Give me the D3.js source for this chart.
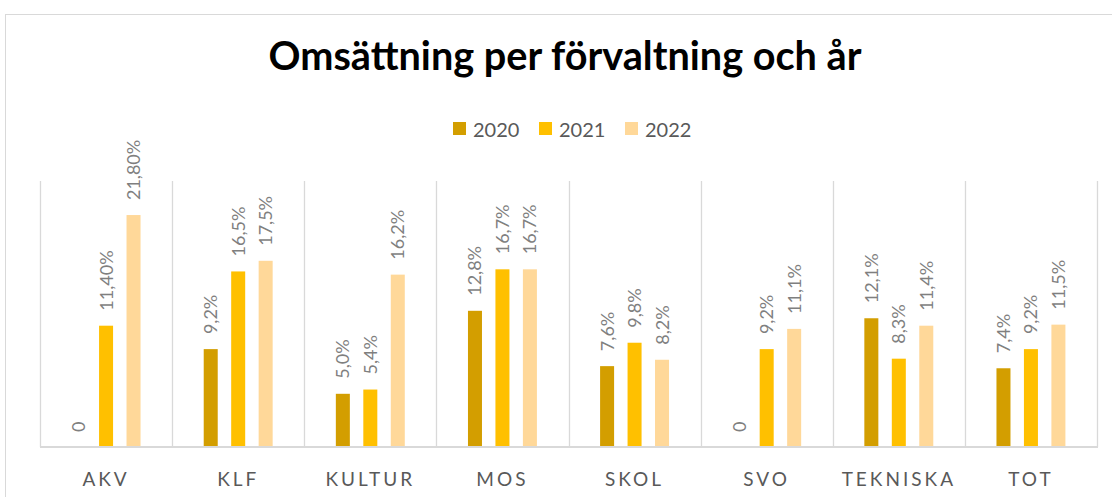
<!DOCTYPE html>
<html>
<head>
<meta charset="utf-8">
<script src="https://cdn.jsdelivr.net/npm/d3@7"></script>
<style>
  html, body { margin: 0; padding: 0; background: #fff; }
  svg { display: block; }
  text { font-family: Lato, "Open Sans", sans-serif; }
</style>
</head>
<body>
<svg id="chart" width="1112" height="497"></svg>
<script>
const categories = ["AKV", "KLF", "KULTUR", "MOS", "SKOL", "SVO", "TEKNISKA", "TOT"];
const years = ["2020", "2021", "2022"];
const values2020 = [0, 9.2, 5.0, 12.8, 7.6, 0, 12.1, 7.4];
const values2021 = [11.4, 16.5, 5.4, 16.7, 9.8, 9.2, 8.3, 9.2];
const values2022 = [21.8, 17.5, 16.2, 16.7, 8.2, 11.1, 11.4, 11.5];
const labels2020 = ["0", "9,2%", "5,0%", "12,8%", "7,6%", "0", "12,1%", "7,4%"];
const labels2021 = ["11,40%", "16,5%", "5,4%", "16,7%", "9,8%", "9,2%", "8,3%", "9,2%"];
const labels2022 = ["21,80%", "17,5%", "16,2%", "16,7%", "8,2%", "11,1%", "11,4%", "11,5%"];
const colors = ["#D39E00", "#FFC000", "#FFD899"];
const title = "Omsättning per förvaltning och år";

const seriesValues = [values2020, values2021, values2022];
const seriesLabels = [labels2020, labels2021, labels2022];

const svg = d3.select("#chart");

// outer chart frame
svg.append("rect")
  .attr("x", 5.5).attr("y", 14.5)
  .attr("width", 1130).attr("height", 520)
  .attr("fill", "#fff").attr("stroke", "#d9d9d9").attr("stroke-width", 1);

const plot = { left: 40, right: 1097, top: 181, bottom: 447 };

const x0 = d3.scaleBand().domain(categories).range([plot.left, plot.right]).padding(0);
const x1 = d3.scaleBand().domain(years).range([0, x0.bandwidth()])
  .paddingInner(0.49).paddingOuter(1.15);
const y = d3.scaleLinear().domain([0, 25]).range([plot.bottom, plot.top]);

// vertical category separators
const seps = categories.map(c => x0(c)).concat([plot.right]);
svg.append("g").selectAll("line").data(seps).join("line")
  .attr("x1", d => Math.round(d) + 0.5).attr("x2", d => Math.round(d) + 0.5)
  .attr("y1", plot.top).attr("y2", plot.bottom)
  .attr("stroke", "#d9d9d9").attr("stroke-width", 1.3);

// bars
const data = [];
categories.forEach((c, i) => {
  years.forEach((yr, j) => {
    data.push({ cat: c, year: yr, value: seriesValues[j][i], label: seriesLabels[j][i], color: colors[j] });
  });
});

svg.append("g").selectAll("rect").data(data).join("rect")
  .attr("x", d => x0(d.cat) + x1(d.year))
  .attr("width", x1.bandwidth())
  .attr("y", d => y(d.value))
  .attr("height", d => y(0) - y(d.value))
  .attr("fill", d => d.color);

// baseline axis
const xAxis = d3.axisBottom(x0).tickSize(0).tickPadding(0);
const gx = svg.append("g").attr("transform", `translate(0,${plot.bottom})`).call(xAxis);
gx.select(".domain").attr("stroke", "#d9d9d9").attr("stroke-width", 2)
  .attr("d", `M${plot.left},0H${plot.right + 1}`);
gx.selectAll(".tick text")
  .attr("y", 39)
  .attr("dy", 0)
  .attr("fill", "#595959")
  .style("font-family", "Lato, sans-serif")
  .style("font-size", "19px")
  .style("letter-spacing", "3px");

// data labels
svg.append("g").selectAll("text").data(data).join("text")
  .attr("transform", d => {
    const cx = x0(d.cat) + x1(d.year) + x1.bandwidth() / 2;
    return `translate(${cx},${y(d.value) - 15}) rotate(-90)`;
  })
  .attr("dy", "0.36em")
  .attr("text-anchor", "start")
  .attr("fill", "#7f7f7f")
  .style("font-size", "18px")
  .text(d => d.label);

// title
const t = svg.append("text")
  .attr("x", 565).attr("y", 70)
  .attr("text-anchor", "middle")
  .attr("fill", "#000")
  .style("font-weight", "bold")
  .style("font-size", "36px")
  .text(title);
const w = t.node().getComputedTextLength();
t.style("font-size", (36 * 593 / w).toFixed(2) + "px");

// legend
const legendX = [453, 539, 625];
const lg = svg.append("g").selectAll("g").data(years).join("g")
  .attr("transform", (d, i) => `translate(${legendX[i]},122)`);
lg.append("rect").attr("width", 13).attr("height", 13).attr("fill", (d, i) => colors[i]);
lg.append("text").attr("x", 20).attr("y", 14.5)
  .attr("fill", "#595959").style("font-size", "20px").text(d => d);
</script>
</body>
</html>
